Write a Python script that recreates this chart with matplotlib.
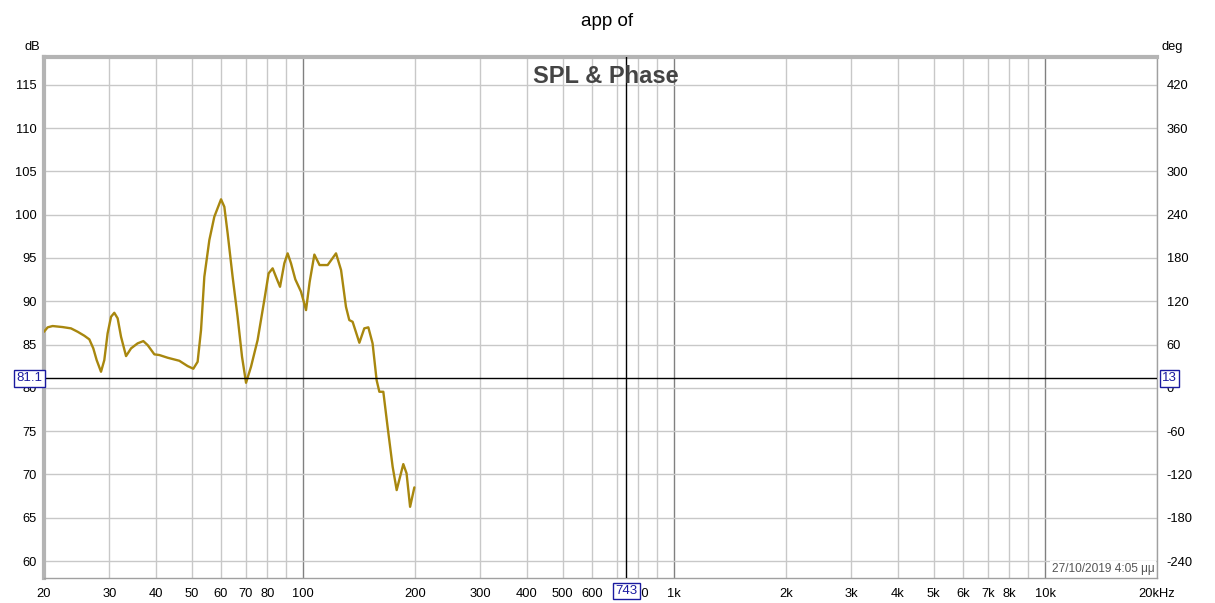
import numpy as np
import matplotlib.pyplot as plt
from matplotlib.ticker import FixedLocator, NullLocator

plt.rcParams['font.family'] = ['Liberation Sans', 'DejaVu Sans']
plt.rcParams['axes.unicode_minus'] = False

# SPL curve (Hz, dB)
freq = [20.0, 20.46, 21.10, 22.45, 23.65, 24.64, 25.69, 26.50, 27.16, 27.73,
        28.49, 29.08, 29.68, 30.32, 30.94, 31.59, 32.26, 33.28, 34.33, 35.76,
        37.05, 38.05, 39.67, 40.93, 43.08, 46.32, 48.76, 50.52, 51.89, 53.00,
        54.10, 55.81, 57.56, 60.01, 61.25, 62.52, 64.48, 66.51, 68.36, 70.08,
        72.28, 75.30, 78.50, 80.63, 82.66, 84.72, 86.54, 88.88, 90.73, 92.64,
        95.15, 98.58, 100.0, 101.7, 104.0, 107.1, 110.6, 116.3, 122.5, 126.4,
        130.3, 133.0, 135.8, 141.6, 146.0, 149.7, 153.7, 157.6, 160.3, 164.3,
        168.7, 174.1, 178.5, 186.0, 189.8, 194.0, 199.2]
spl = [86.48, 86.99, 87.14, 87.02, 86.87, 86.48, 86.02, 85.60, 84.56, 83.21,
       81.86, 83.21, 86.29, 88.21, 88.67, 88.03, 85.90, 83.67, 84.56, 85.14,
       85.40, 84.94, 83.87, 83.79, 83.48, 83.13, 82.52, 82.21, 83.01, 86.67,
       92.83, 97.07, 99.76, 101.77, 100.91, 97.84, 92.83, 88.21, 83.59, 80.59,
       82.44, 85.52, 90.14, 93.22, 93.80, 92.64, 91.67, 94.38, 95.53, 94.38,
       92.53, 91.10, 90.14, 88.98, 92.22, 95.39, 94.18, 94.18, 95.53, 93.60,
       89.36, 87.83, 87.63, 85.21, 86.87, 86.99, 85.14, 80.90, 79.55, 79.55,
       75.51, 70.89, 68.20, 71.20, 70.13, 66.27, 68.51]

x_ticks = [20, 30, 40, 50, 60, 70, 80, 100, 200, 300, 400, 500, 600, 800,
           1000, 2000, 3000, 4000, 5000, 6000, 7000, 8000, 10000, 20000]
x_labels = ['20', '30', '40', '50', '60', '70', '80', '100', '200', '300', '400',
            '500', '600', '800', '1k', '2k', '3k', '4k', '5k', '6k', '7k', '8k',
            '10k', '20kHz']
y_ticks = [60, 65, 70, 75, 80, 85, 90, 95, 100, 105, 110, 115]
deg_ticks = [-240, -180, -120, -60, 0, 60, 120, 180, 240, 300, 360, 420]

cursor_f = 743
cursor_db = 81.1
cursor_deg = 13

ylo, yhi = 58.05, 118.2

fig = plt.figure(figsize=(12.15, 6.03), dpi=100, facecolor='white')
ax = fig.add_axes([44 / 1215, 1 - 578 / 603, (1157 - 44) / 1215, (578 - 57) / 603])
ax.set_xscale('log')
ax.set_xlim(20, 20000)
ax.set_ylim(ylo, yhi)

# grid lines
minor_f = []
for dec in [10, 100, 1000, 10000]:
    for m in range(2, 10):
        f = m * dec
        if 20 <= f <= 20000:
            minor_f.append(f)
for f in minor_f:
    ax.axvline(f, color='#c8c8c8', lw=1, zorder=1)
for f in [100, 1000, 10000]:
    ax.axvline(f, color='#808080', lw=1, zorder=1)
for y in y_ticks:
    ax.axhline(y, color='#c8c8c8', lw=1, zorder=1)

ax.plot(freq, spl, color='#a8870e', lw=1.7, zorder=4,
        solid_joinstyle='round', solid_capstyle='round')

# cursors
ax.axvline(cursor_f, color='black', lw=1, zorder=5)
ax.axhline(cursor_db, color='black', lw=1, zorder=5)

ax.xaxis.set_major_locator(FixedLocator(x_ticks))
ax.xaxis.set_minor_locator(NullLocator())
ax.set_xticklabels(x_labels)
ax.set_yticks(y_ticks)
ax.tick_params(length=0, labelsize=9.3, colors='black', pad=7)
ax.tick_params(axis='y', pad=5)

for side in ['right', 'bottom']:
    ax.spines[side].set_color('#a0a0a0')
    ax.spines[side].set_linewidth(1)
ax.spines['left'].set_color('#b4b4b4')
ax.spines['left'].set_linewidth(3)
ax.spines['top'].set_color('#b4b4b4')
ax.spines['top'].set_linewidth(3)

ax2 = ax.twinx()
ax2.set_ylim((ylo - 80) * 12, (yhi - 80) * 12)
ax2.set_yticks(deg_ticks)
ax2.tick_params(length=0, labelsize=9.3, pad=7)
for s in ax2.spines.values():
    s.set_visible(False)

fig.text(32 / 1215, 1 - 47 / 603, 'dB', fontsize=9.3, ha='center', va='center')
fig.text(1172 / 1215, 1 - 47 / 603, 'deg', fontsize=9.3, ha='center', va='center')
fig.text(0.5, 1 - 22 / 603, 'app of', fontsize=13.5, ha='center', va='center')
ax.text(0.5045, 0.963, 'SPL & Phase', transform=ax.transAxes, fontsize=17,
        fontweight='bold', color='#444444', ha='center', va='center', zorder=6)
ax.text(0.9975, 0.006, '27/10/2019 4:05 μμ', transform=ax.transAxes, fontsize=8.6,
        color='#555555', ha='right', va='bottom', zorder=6,
        bbox=dict(boxstyle='square,pad=0.15', fc='white', ec='none'))

box = dict(boxstyle='square,pad=0.18', fc='white', ec='#1a1aa0', lw=1)
ax.text(-0.0015, cursor_db, '81.1', transform=ax.get_yaxis_transform(), fontsize=9.5,
        color='#1a1aa0', ha='right', va='center', bbox=box, zorder=7, clip_on=False)
ax2.text(1.0045, cursor_deg, '13', transform=ax2.get_yaxis_transform(), fontsize=9.5,
         color='#1a1aa0', ha='left', va='center', bbox=box, zorder=7, clip_on=False)
ax.text(cursor_f, -0.025, '743', transform=ax.get_xaxis_transform(), fontsize=9.5,
        color='#1a1aa0', ha='center', va='center', bbox=box, zorder=7, clip_on=False)

fig.savefig('out.png', dpi=100, facecolor='white')
